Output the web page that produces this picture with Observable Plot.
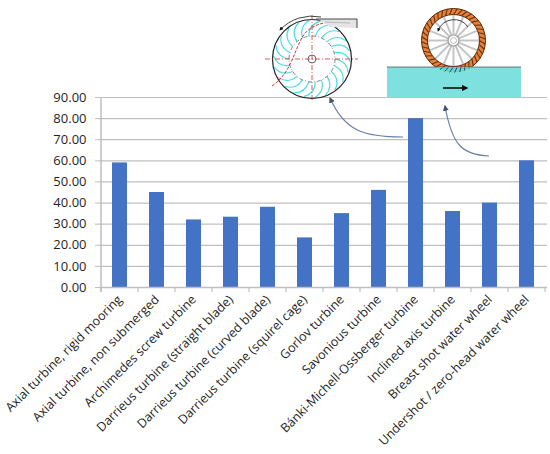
<!DOCTYPE html>
<html>
<head>
<meta charset="utf-8">
<script src="https://cdn.jsdelivr.net/npm/d3@7"></script>
<script src="https://cdn.jsdelivr.net/npm/@observablehq/plot@0.6"></script>
<style>
  html, body { margin: 0; padding: 0; background: #fff; }
  #chart { width: 550px; height: 454px; }
</style>
</head>
<body>
<div id="chart"></div>
<script>
const categories = [
  "Axial turbine, rigid mooring",
  "Axial turbine, non submerged",
  "Archimedes screw turbine",
  "Darrieus turbine (straight blade)",
  "Darrieus turbine (curved blade)",
  "Darrieus turbine (squirel cage)",
  "Gorlov turbine",
  "Savonious turbine",
  "Bánki-Michell-Ossberger turbine",
  "Inclined axis turbine",
  "Breast shot water wheel",
  "Undershot / zero-head water wheel"
];
const values = [59, 45, 32, 33.3, 38, 23.5, 35, 46, 80, 36, 40, 60];
const yTicks = [0, 10, 20, 30, 40, 50, 60, 70, 80, 90];

const data = categories.map((name, i) => ({name, value: values[i]}));

const plot = Plot.plot({
  width: 550,
  height: 454,
  marginLeft: 99,
  marginRight: 3,
  marginTop: 97,
  marginBottom: 167,
  style: {fontFamily: "'Open Sans', sans-serif", fontSize: "12px", color: "#1f1f1f", background: "#fff", overflow: "visible"},
  x: {domain: categories, padding: 0, label: null},
  y: {domain: [0, 90], ticks: yTicks, label: null},
  marks: [
    Plot.gridY(yTicks, {stroke: "#BFBFBF", strokeOpacity: 1, strokeWidth: 1.2}),
    Plot.axisY(yTicks, {tickFormat: d3.format(".2f"), tickSize: 4, tickPadding: 9, stroke: "#BFBFBF", fontSize: 13, label: null}),
    Plot.barY(data, {x: "name", y: "value", fill: "#4472C4", insetLeft: 11, insetRight: 11}),
    Plot.ruleY([0], {stroke: "#BFBFBF", strokeWidth: 1.5}),
    Plot.axisX({tickRotate: -45, tickSize: 0, tickPadding: 10, fontSize: 12.5, label: null})
  ]
});
document.getElementById("chart").appendChild(plot);

// axis line and band-boundary ticks
const svg = d3.select(plot);
const xs = plot.scale("x");
const ys = plot.scale("y");
const y0 = ys.apply(0), yTop = ys.apply(90);
const bounds = categories.map(c => xs.apply(c));
bounds.push(xs.apply(categories[categories.length - 1]) + xs.bandwidth);
const g = svg.append("g");
g.append("line").attr("x1", bounds[0]).attr("x2", bounds[0]).attr("y1", yTop).attr("y2", y0 + 5)
  .attr("stroke", "#BFBFBF").attr("stroke-width", 1.5);
bounds.forEach(b => g.append("line").attr("x1", b).attr("x2", b).attr("y1", y0).attr("y2", y0 + 5)
  .attr("stroke", "#BFBFBF").attr("stroke-width", 1.2));

// decorative illustrations
const defs = svg.append("defs");
defs.append("marker").attr("id", "ah").attr("viewBox", "0 0 10 10").attr("refX", 8).attr("refY", 5)
  .attr("markerWidth", 5).attr("markerHeight", 5).attr("orient", "auto-start-reverse")
  .append("path").attr("d", "M0,0L10,5L0,10z").attr("fill", "#44546A");
defs.append("marker").attr("id", "ahk").attr("viewBox", "0 0 10 10").attr("refX", 8).attr("refY", 5)
  .attr("markerWidth", 4).attr("markerHeight", 4).attr("orient", "auto-start-reverse")
  .append("path").attr("d", "M0,0L10,5L0,10z").attr("fill", "#111");

const deco = svg.append("g");

// --- Cross-flow turbine (left drawing)
const cx1 = 312, cy1 = 59, R1 = 39.5, r1 = 23;
for (let i = 0; i < 22; i++) {
  const a = i / 22 * 2 * Math.PI;
  const a2 = a + 0.36;
  const p0 = [cx1 + r1 * Math.cos(a), cy1 + r1 * Math.sin(a)];
  const p1 = [cx1 + (R1 - 1) * Math.cos(a2), cy1 + (R1 - 1) * Math.sin(a2)];
  const am = a + 0.06, rm = (r1 + R1) / 2 + 4;
  const pc = [cx1 + rm * Math.cos(am), cy1 + rm * Math.sin(am)];
  deco.append("path").attr("d", `M${p0}Q${pc} ${p1}`).attr("fill", "none")
    .attr("stroke", "#45DCE4").attr("stroke-width", 1.1);
}
deco.append("circle").attr("cx", cx1).attr("cy", cy1).attr("r", R1).attr("fill", "none")
  .attr("stroke", "#222").attr("stroke-width", 1.2);
deco.append("circle").attr("cx", cx1).attr("cy", cy1).attr("r", r1).attr("fill", "none")
  .attr("stroke", "#666").attr("stroke-width", 0.8).attr("stroke-dasharray", "4 2 1 2");
deco.append("circle").attr("cx", cx1).attr("cy", cy1).attr("r", 4).attr("fill", "none")
  .attr("stroke", "#444").attr("stroke-width", 0.8);
deco.append("line").attr("x1", 265).attr("x2", 358).attr("y1", cy1).attr("y2", cy1)
  .attr("stroke", "#D03030").attr("stroke-width", 0.8).attr("stroke-dasharray", "5 2 1 2");
deco.append("line").attr("x1", cx1).attr("x2", cx1).attr("y1", 15).attr("y2", 102)
  .attr("stroke", "#D03030").attr("stroke-width", 0.8).attr("stroke-dasharray", "5 2 1 2");
deco.append("path").attr("d", "M272,86 C292,72 294,50 303,36 C310,25 325,21 340,22")
  .attr("fill", "none").attr("stroke", "#C02020").attr("stroke-width", 0.9).attr("stroke-dasharray", "3 1.5");
// nozzle
deco.append("path").attr("d", "M318,19 L357,19 L357,28 L330,27 Z").attr("fill", "#E4E4E4")
  .attr("stroke", "none");
deco.append("path").attr("d", "M316,19 L357,19 L357,28").attr("fill", "none")
  .attr("stroke", "#333").attr("stroke-width", 0.9);
deco.append("path").attr("d", "M325,22 L350,23").attr("stroke", "#999").attr("stroke-width", 0.6);
// rotation arrow
deco.append("path").attr("d", "M321,17 A44,44 0 0 0 280,30").attr("fill", "none")
  .attr("stroke", "#444").attr("stroke-width", 1).attr("marker-end", "url(#ahk)");

// --- Undershot water wheel (right drawing)
const cx2 = 453.5, cy2 = 40.5, Ro = 32, Ri = 26;
for (let i = 0; i < 16; i++) {
  const a = i / 16 * 2 * Math.PI;
  deco.append("line").attr("x1", cx2 + 5 * Math.cos(a)).attr("y1", cy2 + 5 * Math.sin(a))
    .attr("x2", cx2 + Ri * Math.cos(a)).attr("y2", cy2 + Ri * Math.sin(a))
    .attr("stroke", "#C4C4C4").attr("stroke-width", 2);
}
deco.append("circle").attr("cx", cx2).attr("cy", cy2).attr("r", 5.5).attr("fill", "#fff")
  .attr("stroke", "#999").attr("stroke-width", 1.2);
deco.append("circle").attr("cx", cx2).attr("cy", cy2).attr("r", 3).attr("fill", "#fff")
  .attr("stroke", "#aaa").attr("stroke-width", 0.8);
deco.append("circle").attr("cx", cx2).attr("cy", cy2).attr("r", (Ro + Ri) / 2).attr("fill", "none")
  .attr("stroke", "#E5823C").attr("stroke-width", Ro - Ri);
deco.append("circle").attr("cx", cx2).attr("cy", cy2).attr("r", Ro).attr("fill", "none")
  .attr("stroke", "#5A2A0A").attr("stroke-width", 1);
deco.append("circle").attr("cx", cx2).attr("cy", cy2).attr("r", Ri).attr("fill", "none")
  .attr("stroke", "#5A2A0A").attr("stroke-width", 1);
for (let i = 0; i < 40; i++) {
  const a = i / 40 * 2 * Math.PI;
  deco.append("line").attr("x1", cx2 + Ri * Math.cos(a)).attr("y1", cy2 + Ri * Math.sin(a))
    .attr("x2", cx2 + Ro * Math.cos(a + 0.12)).attr("y2", cy2 + Ro * Math.sin(a + 0.12))
    .attr("stroke", "#6A300C").attr("stroke-width", 1.1);
}
deco.append("path").attr("d", "M468,27 A17,17 0 0 0 438,31").attr("fill", "none")
  .attr("stroke", "#333").attr("stroke-width", 0.9).attr("marker-end", "url(#ahk)");
// water
deco.append("rect").attr("x", 387).attr("y", 67).attr("width", 134).attr("height", 30)
  .attr("fill", "#7FE0E0");
deco.append("line").attr("x1", 387).attr("x2", 521).attr("y1", 67).attr("y2", 67)
  .attr("stroke", "#555").attr("stroke-width", 0.8);
// submerged paddles
const wclip = defs.append("clipPath").attr("id", "wclip");
wclip.append("rect").attr("x", 380).attr("y", 67.5).attr("width", 150).attr("height", 30);
const sub = deco.append("g").attr("clip-path", "url(#wclip)");
sub.append("circle").attr("cx", cx2).attr("cy", cy2).attr("r", (Ro + Ri) / 2).attr("fill", "none")
  .attr("stroke", "#6FD3D3").attr("stroke-width", Ro - Ri);
for (let i = 0; i < 40; i++) {
  const a = i / 40 * 2 * Math.PI;
  sub.append("line").attr("x1", cx2 + Ri * Math.cos(a)).attr("y1", cy2 + Ri * Math.sin(a))
    .attr("x2", cx2 + Ro * Math.cos(a + 0.12)).attr("y2", cy2 + Ro * Math.sin(a + 0.12))
    .attr("stroke", "#1F4F55").attr("stroke-width", 1);
}
deco.append("line").attr("x1", 443).attr("x2", 467).attr("y1", 88).attr("y2", 88)
  .attr("stroke", "#111").attr("stroke-width", 1.6).attr("marker-end", "url(#ahk)");

// pointer arrows
deco.append("path").attr("d", "M403,137 C365,137 345,132 330,98").attr("fill", "none")
  .attr("stroke", "#6B7FA8").attr("stroke-width", 1.2).attr("marker-end", "url(#ah)");
deco.append("path").attr("d", "M489,156 C462,155 452,145 445,106").attr("fill", "none")
  .attr("stroke", "#6B7FA8").attr("stroke-width", 1.2).attr("marker-end", "url(#ah)");
</script>
</body>
</html>
